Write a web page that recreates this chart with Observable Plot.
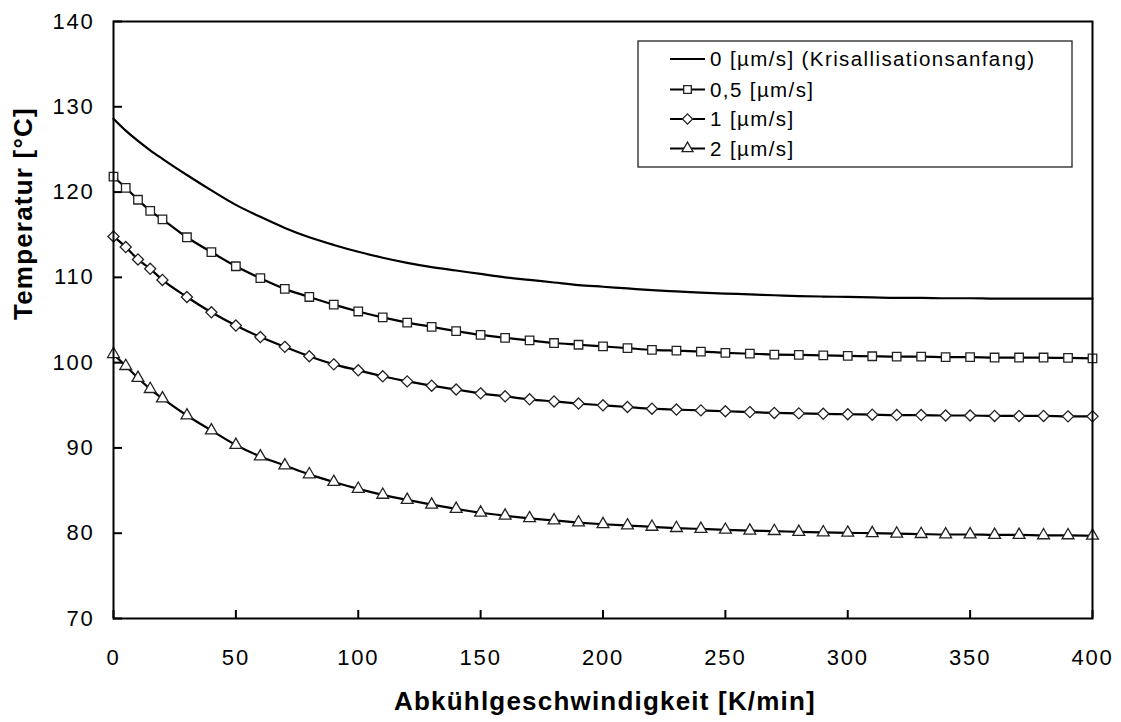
<!DOCTYPE html>
<html><head><meta charset="utf-8">
<script src="https://cdn.jsdelivr.net/npm/d3@7"></script>
<script src="https://cdn.jsdelivr.net/npm/@observablehq/plot@0.6"></script>
<style>
body{margin:0;background:#fff;}
#wrap{position:relative;width:1121px;height:722px;font-family:"Liberation Sans",Arial,sans-serif;}
#wrap svg.leg{position:absolute;left:0;top:0;pointer-events:none;}
</style></head><body><div id="wrap"></div>
<script>
// Abkühlgeschwindigkeit [K/min]
const rates = [0,5,10,15,20,30,40,50,60,70,80,90,100,110,120,130,140,150,160,170,180,190,200,210,220,230,240,250,260,270,280,290,300,310,320,330,340,350,360,370,380,390,400];
// 0 [µm/s] (Kristallisationsanfang)
const temp0 = [128.6,127.2,126.0,124.9,123.9,122.0,120.2,118.5,117.1,115.8,114.7,113.8,113.0,112.3,111.7,111.2,110.8,110.4,110.0,109.7,109.4,109.1,108.9,108.7,108.5,108.35,108.2,108.1,108.0,107.9,107.8,107.75,107.7,107.65,107.6,107.6,107.55,107.55,107.5,107.5,107.5,107.5,107.5];
// 0,5 [µm/s]
const temp05 = [121.8,120.5,119.1,117.8,116.8,114.7,112.95,111.3,109.9,108.65,107.7,106.8,106.0,105.3,104.7,104.2,103.7,103.25,102.9,102.6,102.3,102.1,101.9,101.7,101.5,101.4,101.3,101.15,101.05,100.95,100.9,100.85,100.8,100.75,100.7,100.7,100.65,100.65,100.6,100.6,100.6,100.55,100.5];
// 1 [µm/s]
const temp1 = [114.8,113.55,112.1,111.0,109.7,107.7,105.9,104.35,103.0,101.85,100.75,99.8,99.1,98.4,97.8,97.3,96.85,96.4,96.05,95.7,95.45,95.2,95.0,94.8,94.6,94.5,94.4,94.3,94.2,94.1,94.05,94.0,93.95,93.9,93.85,93.85,93.8,93.8,93.75,93.75,93.75,93.7,93.7];
// 2 [µm/s]
const temp2 = [101.0,99.6,98.2,96.9,95.8,93.8,92.05,90.35,89.0,87.95,86.9,86.0,85.2,84.5,83.9,83.35,82.85,82.4,82.05,81.75,81.5,81.25,81.05,80.9,80.75,80.6,80.5,80.4,80.3,80.25,80.15,80.1,80.05,80.0,79.95,79.9,79.85,79.85,79.8,79.8,79.75,79.75,79.7];

const seriesNames = ["0 [µm/s] (Krisallisationsanfang)", "0,5 [µm/s]", "1 [µm/s]", "2 [µm/s]"];
const seriesSymbols = [null, "square", "diamond2", "triangle"];
const seriesR = [0, 4.8, 5.0, 4.4];
const xTicks = [0,50,100,150,200,250,300,350,400];
const yTicks = [70,80,90,100,110,120,130,140];
const xLabel = "Abkühlgeschwindigkeit [K/min]";
const yLabel = "Temperatur [°C]";

const allSeries = [temp0, temp05, temp1, temp2];
const rows = [];
allSeries.forEach((vals, si) => vals.forEach((v, i) => rows.push({x: rates[i], y: v, s: si})));

const W = 1121, H = 722;
const mL = 113, mR = 29, mT = 21, mB = 104;
const fw = W - mL - mR, fh = H - mT - mB;

const marks = [
  Plot.axisX({ticks: xTicks, tickSize: 0, tickPadding: 31, label: null}),
  Plot.axisY({ticks: yTicks, tickSize: 0, tickPadding: 19, label: null}),
  Plot.tickY(yTicks, {y: d => d, insetRight: fw - 9, stroke: "black", strokeWidth: 2}),
  Plot.tickX(xTicks, {x: d => d, insetTop: fh - 8, stroke: "black", strokeWidth: 2}),
  Plot.line(rows, {x: "x", y: "y", z: "s", stroke: "black", strokeWidth: 2.2, curve: "monotone-x"})
];
for (let si = 1; si < allSeries.length; si++) {
  marks.push(Plot.dot(rows.filter(d => d.s === si), {x: "x", y: "y", symbol: seriesSymbols[si], r: seriesR[si], fill: "white", stroke: "#222", strokeWidth: 1.3}));
}
marks.push(
  Plot.frame({stroke: "black", strokeWidth: 2}),
  Plot.text([xLabel], {frameAnchor: "bottom", dy: 83, dx: 2, fontSize: 26, fontWeight: "bold", lineAnchor: "middle"}),
  Plot.text([yLabel], {frameAnchor: "left", dx: -89.5, rotate: -90, fontSize: 26, fontWeight: "bold", lineAnchor: "middle"})
);

const chart = Plot.plot({
  width: W, height: H,
  marginLeft: mL, marginRight: mR, marginTop: mT, marginBottom: mB,
  x: {domain: [0, 400]},
  y: {domain: [70, 140]},
  style: {fontFamily: "'Liberation Sans', Arial, sans-serif", fontSize: "22px", letterSpacing: "1.8px", color: "black", background: "white"},
  marks
});
document.getElementById("wrap").appendChild(chart);
// titles: slightly tighter spacing than tick labels
d3.select(chart).selectAll('g[aria-label="text"] text').attr("letter-spacing", "1.2px");

// Legend (inside plot area, top right)
const leg = d3.select("#wrap").append("svg").attr("class", "leg").attr("width", W).attr("height", H);
const lx = 638, ly = 41, lw = 434, lh = 126;
leg.append("rect").attr("x", lx).attr("y", ly).attr("width", lw).attr("height", lh)
  .attr("fill", "white").attr("stroke", "#222").attr("stroke-width", 1.3);
const rowY = [59, 89.5, 119, 148.5];
const symMap = {square: d3.symbolSquare, diamond2: d3.symbolDiamond2, triangle: d3.symbolTriangle};
const legR = [0, 4.3, 4.6, 4.1];
seriesNames.forEach((name, i) => {
  const g = leg.append("g").attr("transform", `translate(0,${rowY[i]})`);
  g.append("line").attr("x1", 670).attr("x2", 705).attr("y1", 0).attr("y2", 0).attr("stroke", "black").attr("stroke-width", 2);
  if (seriesSymbols[i]) {
    g.append("path").attr("transform", "translate(687.5,0)")
      .attr("d", d3.symbol(symMap[seriesSymbols[i]], Math.PI * legR[i] * legR[i])())
      .attr("fill", "white").attr("stroke", "#222").attr("stroke-width", 1.3);
  }
  g.append("text").attr("x", 710).attr("y", 0).attr("dy", "0.35em")
    .attr("font-family", "'Liberation Sans', Arial, sans-serif").attr("font-size", 20.5)
    .attr("letter-spacing", "1.4px").text(name);
});
</script>
</body></html>
